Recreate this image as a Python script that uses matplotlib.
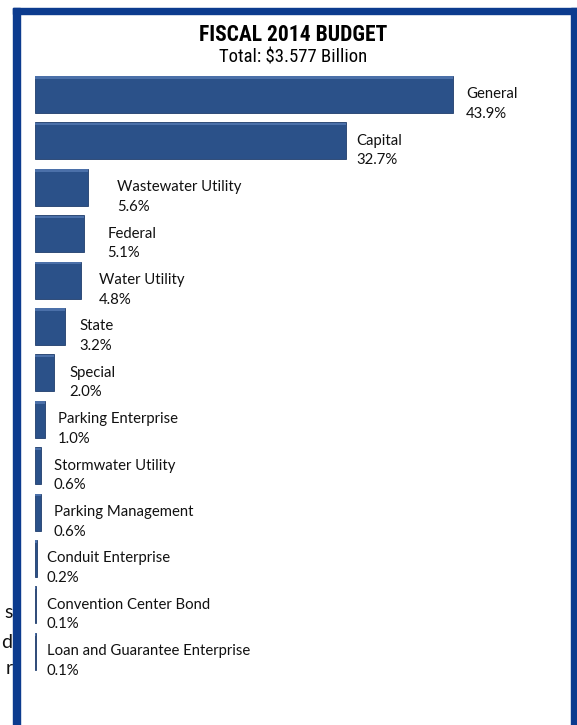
import matplotlib
matplotlib.use('Agg')
import matplotlib.pyplot as plt
from matplotlib.patches import Rectangle

# budget share by fund, percent of total
funds = ['General', 'Capital', 'Wastewater Utility', 'Federal', 'Water Utility',
         'State', 'Special', 'Parking Enterprise', 'Stormwater Utility',
         'Parking Management', 'Conduit Enterprise', 'Convention Center Bond',
         'Loan and Guarantee Enterprise']
shares = [43.9, 32.7, 5.6, 5.1, 4.8, 3.2, 2.0, 1.0, 0.6, 0.6, 0.2, 0.1, 0.1]

title = 'FISCAL 2014 BUDGET'
subtitle = 'Total: $3.577 Billion'

# extra label gap (px) for a few hand-placed labels
label_nudge = [0, -3, 16, 11, 5, 1, 2, 0, 0, 0, -3, -2, -2]

W, H = 577, 725
BAR = '#2b5189'
FRAME = '#0c3b8e'
HEAD_FONT = ['Roboto Condensed', 'Liberation Sans']

fig = plt.figure(figsize=(W / 100, H / 100), dpi=100)
fig.patch.set_facecolor('white')

left = 35
pitch = 46.4
first = 94.5
px_per = (453 - left) / 43.9
ax = fig.add_axes([left / W, 0, 1 - left / W, 1])
ax.set_xlim(0, (W - left) / px_per)
ax.set_ylim((H - first) / pitch, -first / pitch)
ax.axis('off')

ys = list(range(len(funds)))
ax.barh(ys, shares, height=0.8, color=BAR, edgecolor='#1f3d6c', linewidth=0.6)
# soft top bevel
ax.barh([y - 0.365 for y in ys], shares, height=0.05, color='#4b70a9', linewidth=0)

for y, name, v, dx in zip(ys, funds, shares, label_nudge):
    ax.annotate('%s\n%.1f%%' % (name, v), xy=(v, y + 0.21),
                xytext=(13 + dx, 0), textcoords='offset pixels',
                ha='left', va='center', fontsize=10.7, family='Lato',
                color='#111111', linespacing=1.5)

fig.text(293 / W, 1 - 35 / H, title, ha='center', va='center',
         fontsize=15.5, fontweight='bold', family=HEAD_FONT)
fig.text(293 / W, 1 - 58 / H, subtitle, ha='center', va='center',
         fontsize=13.5, family=HEAD_FONT)

# slide frame around the chart
for x0, y0, w, h in [(13, 0, 7, H - 8), (13, H - 14, W - 13, 6),
                     (571, 0, 6, H - 8)]:
    fig.patches.append(Rectangle((x0 / W, y0 / H), w / W, h / H,
                                 transform=fig.transFigure,
                                 color=FRAME, zorder=5))

# word endings of the neighbouring slide text
for yy, ch in [(612, 's'), (642, 'd'), (669, 'r')]:
    fig.text(12.5 / W, 1 - yy / H, ch, ha='right', va='center',
             fontsize=14, family='Lato', color='#111111')

fig.savefig('out.png', dpi=100)
